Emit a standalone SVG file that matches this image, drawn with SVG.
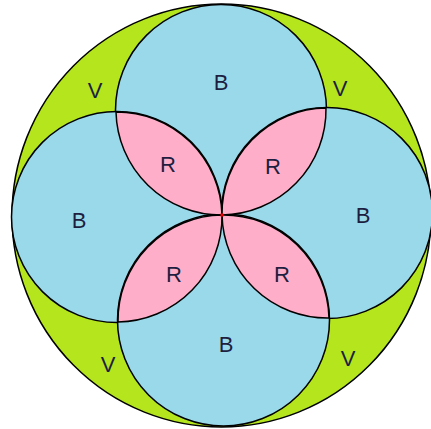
<svg xmlns="http://www.w3.org/2000/svg" width="431" height="429" viewBox="0 0 431 429">
<style>
.o{stroke:#000;stroke-width:1.5}
.g{fill:#b5e61d}
.b{fill:#99d9ea}
.p{fill:#ffaec9}
text{font-family:"Liberation Sans",Arial,sans-serif;font-size:22px;fill:#1e1e40;text-anchor:middle}
</style>
<rect width="431" height="429" fill="#fff"/>
<g id="outer"><ellipse class="o g" cx="221.5" cy="215.5" rx="209.5" ry="211.5"/></g>
<g id="circle-top"><circle class="o b" cx="221" cy="110" r="105.5"/></g>
<g id="circle-left"><circle class="o b" cx="117" cy="217" r="105.5"/></g>
<g id="circle-right"><circle class="o b" cx="327" cy="213" r="105.5"/></g>
<g id="circle-bottom"><circle class="o b" cx="223.5" cy="320" r="106"/></g>
<g id="lens-tl"><path class="o p" d="M222 215 A105.5 105.5 0 0 1 116 112 A105.5 105.5 0 0 1 222 215 Z"/></g>
<g id="lens-tr"><path class="o p" d="M326 108 A105.5 105.5 0 0 1 222 215 A105.5 105.5 0 0 1 326 108 Z"/></g>
<g id="lens-br"><path class="o p" d="M222 215 A105.5 105.5 0 0 1 329 318 A105.5 105.5 0 0 1 222 215 Z"/></g>
<g id="lens-bl"><path class="o p" d="M118 322 A105.5 105.5 0 0 1 222 215 A105.5 105.5 0 0 1 118 322 Z"/></g>
<g id="center"><rect x="220.5" y="213.5" width="3" height="3" fill="#e00"/></g>
<g id="labels">
<text x="221" y="90">B</text>
<text x="79" y="228">B</text>
<text x="363" y="223">B</text>
<text x="226" y="352">B</text>
<text x="168" y="172">R</text>
<text x="273" y="174">R</text>
<text x="174" y="282">R</text>
<text x="282" y="282">R</text>
<text x="95" y="98">V</text>
<text x="340" y="96">V</text>
<text x="108" y="372">V</text>
<text x="348" y="366">V</text>
</g>
</svg>
